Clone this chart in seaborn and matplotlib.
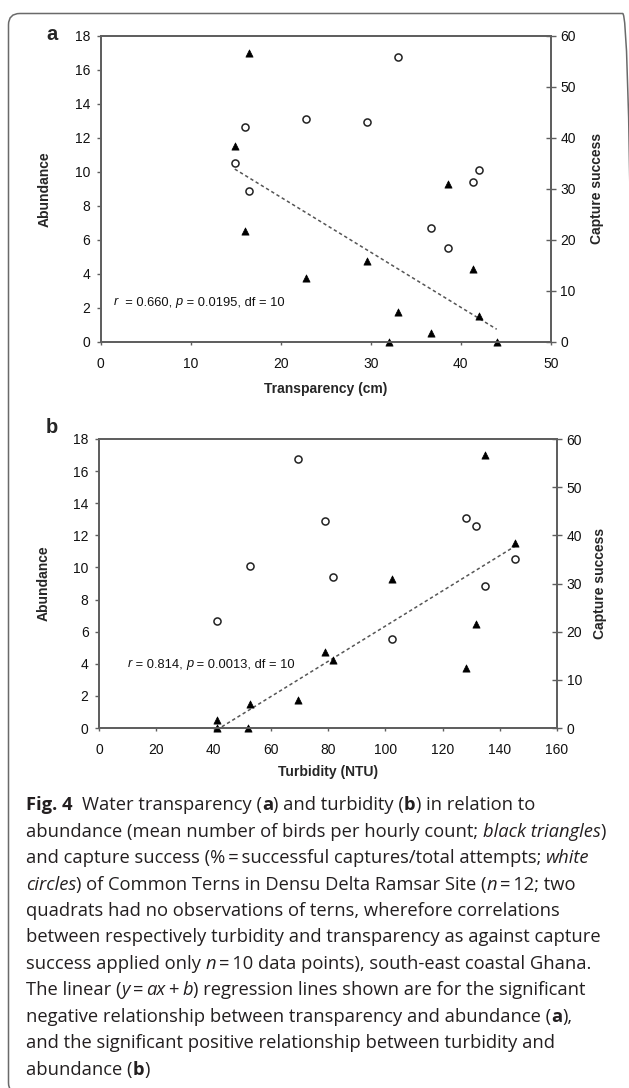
import numpy as np
import pandas as pd
import seaborn as sns
import matplotlib
matplotlib.use("Agg")
import matplotlib.pyplot as plt
from matplotlib import font_manager
from matplotlib.patches import FancyBboxPatch

# ---------------- data ----------------
transparency = [16.5, 14.9, 16.0, 22.8, 29.6, 38.6, 33.0, 32.0, 36.7, 41.4, 42.0, 44.0]
turbidity = [134.7, 145.5, 131.8, 128.3, 79.1, 102.5, 69.6, 41.1, 41.1, 81.6, 52.7, 52.0]
abundance = [17.0, 11.5, 6.5, 3.75, 4.75, 9.25, 1.75, 0.0, 0.5, 4.25, 1.5, 0.0]
capture_success = [29.5, 35.0, 42.0, 43.7, 43.0, 18.4, 55.8, np.nan, 22.2, 31.4, 33.6, np.nan]

transp_ticks = [0, 10, 20, 30, 40, 50]
turb_ticks = [0, 20, 40, 60, 80, 100, 120, 140, 160]
abund_ticks = [0, 2, 4, 6, 8, 10, 12, 14, 16, 18]
capture_ticks = [0, 10, 20, 30, 40, 50, 60]

stat_a = ("r", "  = 0.660, ", "p", " = 0.0195, df = 10")
stat_b = ("r", " = 0.814, ", "p", " = 0.0013, df = 10")

df = pd.DataFrame({"transparency": transparency, "turbidity": turbidity,
                   "abundance": abundance, "capture": capture_success})

# ---------------- fonts ----------------
sns.set_style("white")
TTF = font_manager.fontManager.ttflist


def wnum(w):
    if isinstance(w, str):
        return font_manager.weight_dict.get(w, 400)
    return w


def family_ok(name):
    ent = [f for f in TTF if f.name == name]
    bold = any(wnum(f.weight) >= 600 and f.style == "normal" for f in ent)
    ital = any(f.style in ("italic", "oblique") for f in ent)
    return bold and ital


cap_font = next((n for n in ["Noto Sans", "Open Sans", "Lato", "Liberation Sans", "DejaVu Sans"]
                 if family_ok(n)), "DejaVu Sans")

plt.rcParams["font.family"] = ["Liberation Sans", "DejaVu Sans"]

W, H = 629, 1088
fig = plt.figure(figsize=(W / 100, H / 100), dpi=100)
fig.patch.set_facecolor("white")
renderer = fig.canvas.get_renderer()

SPINE = "#5f5f5f"
TICK_SIZE = 10.0
LAB_SIZE = 10.0
ANN_SIZE = 9.3


def px_axes(l, t, r, b):
    return fig.add_axes([l / W, 1 - b / H, (r - l) / W, (b - t) / H])


def style(ax, ax2, xticks, xmax, xlabel, label_x_y, ylab_left_x, ylab_right_x):
    ax.set_xlim(0, xmax)
    ax.set_ylim(0, 18)
    ax2.set_ylim(0, 60)
    ax.set_xticks(xticks)
    ax.set_yticks(abund_ticks)
    ax2.set_yticks(capture_ticks)
    for a in (ax, ax2):
        for s in a.spines.values():
            s.set_color(SPINE)
            s.set_linewidth(1.3)
            s.set_visible(True)
    ax.tick_params(axis="y", direction="out", length=3, width=1, color=SPINE,
                   labelcolor="#111111", pad=4.5, left=True, labelsize=TICK_SIZE)
    ax.tick_params(axis="x", direction="out", length=2.5, width=1, color=SPINE,
                   labelcolor="#111111", pad=8.5, bottom=True, labelsize=TICK_SIZE)
    ax2.tick_params(axis="y", direction="inout", length=7, width=1, color=SPINE,
                    labelcolor="#111111", pad=3.5, right=True, labelsize=TICK_SIZE)
    ax.set_xlabel(xlabel, fontsize=LAB_SIZE, fontweight="bold")
    ax.set_ylabel("Abundance", fontsize=LAB_SIZE, fontweight="bold")
    ax2.set_ylabel("Capture success", fontsize=LAB_SIZE, fontweight="bold")
    ax.xaxis.set_label_coords(0.5, label_x_y)
    ax.xaxis.label.set_va("center")
    ax.yaxis.set_label_coords(ylab_left_x, 0.5)
    ax.yaxis.label.set_va("center")
    ax2.yaxis.set_label_coords(ylab_right_x, 0.5)
    ax2.yaxis.label.set_va("center")
    ax.grid(False)
    ax2.grid(False)


def panel(ax, xcol):
    ax2 = ax.twinx()
    sns.regplot(data=df, x=xcol, y="abundance", ax=ax, scatter=False, ci=None,
                truncate=True, color="#555555",
                line_kws=dict(ls=(0, (2.2, 1.8)), lw=1.1))
    sns.scatterplot(data=df, x=xcol, y="abundance", ax=ax, marker="^", s=27,
                    color="black", edgecolor="black", linewidth=0.5, zorder=3,
                    clip_on=False)
    sns.scatterplot(data=df.dropna(), x=xcol, y="capture", ax=ax2, marker="o", s=26,
                    facecolor="white", edgecolor="#222222", linewidth=1.1, zorder=3,
                    clip_on=False)
    return ax2


def stat_text(ax, x, y, parts):
    x0, y0 = ax.transData.transform((x, y))
    cur = x0
    for i, s in enumerate(parts):
        t = fig.text(cur / W, y0 / H, s, fontsize=ANN_SIZE,
                     fontstyle="italic" if i % 2 == 0 else "normal",
                     ha="left", va="center", color="#111111")
        cur += t.get_window_extent(renderer).width


# Panel a
axa = px_axes(100.7, 35.7, 550.7, 341.7)
axa2 = panel(axa, "transparency")
style(axa, axa2, transp_ticks, 50, "Transparency (cm)", (341.7 - 388.6) / 306,
      (45 - 100.7) / 450, (597 - 100.7) / 450)

# Panel b
axb = px_axes(99, 439, 557, 728)
axb2 = panel(axb, "turbidity")
style(axb, axb2, turb_ticks, 160, "Turbidity (NTU)", (728 - 771.7) / 289,
      (44 - 99) / 458, (600 - 99) / 458)

stat_text(axa, 1.4, 2.32, stat_a)
stat_text(axb, 10.0, 3.97, stat_b)

# panel letters
fig.text(52 / W, 1 - 35 / H, "a", fontsize=14.5, fontweight="bold", ha="center", va="center")
fig.text(52 / W, 1 - 428 / H, "b", fontsize=14.5, fontweight="bold", ha="center", va="center")

# frame
frame = FancyBboxPatch((8.5 / W, 1 - 1094 / H), (634 - 8.5) / W, (1094 - 13.5) / H,
                       boxstyle="round,pad=0,rounding_size=0.018",
                       transform=fig.transFigure, fill=False, edgecolor="#6a6a6a",
                       linewidth=1.1, mutation_aspect=W / H, zorder=0)
fig.patches.append(frame)

# ---------------- caption ----------------
N, B, I = "normal", "bold", "italic"
caption = [
    [("Fig. 4", B), ("  Water transparency (", N), ("a", B), (") and turbidity (", N), ("b", B), (") in relation to", N)],
    [("abundance (mean number of birds per hourly count; ", N), ("black triangles", I), (")", N)],
    [("and capture success (%\u2009=\u2009successful captures/total attempts; ", N), ("white", I)],
    [("circles", I), (") of Common Terns in Densu Delta Ramsar Site (", N), ("n", I), ("\u2009=\u200912; two", N)],
    [("quadrats had no observations of terns, wherefore correlations", N)],
    [("between respectively turbidity and transparency as against capture", N)],
    [("success applied only ", N), ("n", I), ("\u2009=\u200910 data points), south-east coastal Ghana.", N)],
    [("The linear (", N), ("y", I), ("\u2009=\u2009", N), ("ax", I), ("\u2009+\u2009", N), ("b", I), (") regression lines shown are for the significant", N)],
    [("negative relationship between transparency and abundance (", N), ("a", B), ("),", N)],
    [("and the significant positive relationship between turbidity and", N)],
    [("abundance (", N), ("b", B), (")", N)],
]
line_y = [803, 830, 856, 883, 909, 935, 962, 988, 1015, 1041, 1068]
CAP_FAM = [cap_font, "DejaVu Sans"]


def text_w(s, weight, fstyle, size):
    t = fig.text(0, 0, s, fontsize=size, family=CAP_FAM, fontweight=weight, fontstyle=fstyle)
    w = t.get_window_extent(renderer).width
    t.remove()
    return w


ref_line = "between respectively turbidity and transparency as against capture"
CAP_SIZE = 13.0 * 570.0 / text_w(ref_line, "normal", "normal", 13.0)

space_cache = {}


def space_w(weight, fstyle):
    key = (weight, fstyle)
    if key not in space_cache:
        space_cache[key] = (text_w("x x", weight, fstyle, CAP_SIZE)
                            - text_w("xx", weight, fstyle, CAP_SIZE))
    return space_cache[key]


for segs, yp in zip(caption, line_y):
    x = 26.0
    for s, kind in segs:
        weight = "bold" if kind == B else "normal"
        fstyle = "italic" if kind == I else "normal"
        lead = len(s) - len(s.lstrip(" "))
        trail = len(s) - len(s.rstrip(" "))
        core = s.strip(" ")
        x += lead * space_w(weight, fstyle)
        if core:
            fig.text(x / W, 1 - yp / H, core, fontsize=CAP_SIZE, family=CAP_FAM,
                     fontweight=weight, fontstyle=fstyle, color="#231f20",
                     ha="left", va="center_baseline")
            x += text_w(core, weight, fstyle, CAP_SIZE)
        x += trail * space_w(weight, fstyle)

fig.savefig("out.png", dpi=100, facecolor="white")
